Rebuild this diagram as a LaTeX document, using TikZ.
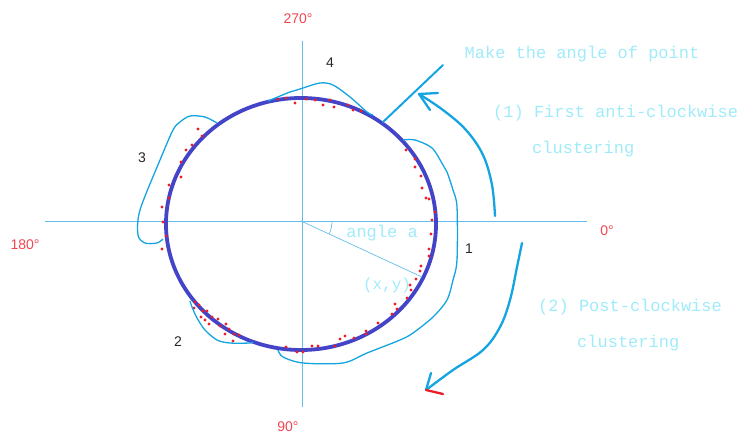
\documentclass[tikz,border=0pt]{standalone}
\usepackage{fontspec}
\setmainfont{Liberation Sans}
\newfontfamily\notefont{Liberation Mono}
\usetikzlibrary{positioning,calc}
\definecolor{axisblue}{RGB}{100,190,235}
\definecolor{sketchblue}{RGB}{20,165,225}
\definecolor{ringblue}{RGB}{68,68,200}
\definecolor{dotred}{RGB}{235,30,40}
\definecolor{notecyan}{RGB}{160,235,250}
\definecolor{degred}{RGB}{240,70,80}
\definecolor{numgray}{RGB}{40,40,40}

\begin{document}
\begin{tikzpicture}[
      x=1pt,y=-1pt,
      axis/.style={axisblue,line width=0.9pt},
      ring/.style={ringblue,line width=3.8pt},
      outline/.style={sketchblue,line width=1.3pt,line join=round},
      bigarrow/.style={sketchblue,line width=2.3pt,line cap=round,line join=round},
      note/.style={notecyan,font=\notefont\fontsize{17}{20}\selectfont,inner sep=0pt},
      deg/.style={degred,font=\fontsize{14}{16}\selectfont,inner sep=0pt},
      num/.style={numgray,font=\fontsize{14}{16}\selectfont,inner sep=0pt},
    ]
    \useasboundingbox (0,0) rectangle (743,436);

    % Axes
    \coordinate (o) at (301,221);
    \coordinate (xl) at (45,221);
    \coordinate (xr) at (587,221);
    \coordinate (yt) at (302,41);
    \coordinate (yb) at (302,407);
    \draw[axis] (xl) -- (xr);
    \draw[axis] (yt) -- (yb);

    % Direction labels
    \node[deg] (d270) at (298,19)  {270°};
    \node[deg] (d180) at (25,245)  {180°};
    \node[deg] (d0)   at (607,231) {0°};
    \node[deg] (d90)  at (288,427) {90°};

    % Fitted ring
    \draw[ring] (301,224) ellipse[x radius=135,y radius=126];

    % Angle of the point
    \coordinate (pt) at (422,277);
    \draw[axis,line width=0.7pt] (o) -- (pt);
    \draw[axis,line width=0.7pt] ($(o)+(31,0)$) arc[start angle=0,end angle=24,radius=31];
    \node[note] (ang) at (382,233) {angle a};
    \node[note,font=\notefont\fontsize{16}{18}\selectfont] (xy) at (387,285) {(x,y)};

    % Sample points
    \foreach \px/\py in {406/150,415/159,415/167,421/176,422/188,426/198,429/199,
        435/212,432/220,431/234,429/249,429/256,421/266,420/271,416/279,410/285,
        411/290,407/298,395/304,397/309,392/314,378/323,366/331,366/334,354/338,
        345/336,340/339,335/346,318/346,312/346,303/352,286/347,297/352,
        195/302,199/305,194/308,203/311,207/311,201/317,212/317,218/319,205/320,
        209/324,220/326,226/324,229/329,225/334,234/334,239/335,233/341,
        198/129,202/136,192/145,186/150,181/162,181/177,169/185,169/198,
        162/207,163/222,166/236,162/249,
        278/99,286/98,295/103,306/99,315/100,323/105,330/100,334/107,
        348/105,353/110,361/111}
      \fill[dotred] (\px,\py) circle[radius=1.6];

    % Cluster outlines
    \draw[outline] plot[smooth,tension=0.5] coordinates {(278,350) (283,357) (303,363)
        (343,363) (367,353) (400,340) (413,333) (433,317) (447,300) (453,280)
        (457,260) (457,207) (453,190) (447,172) (443,165) (432,148) (415,140) (403,140)};
    \draw[outline] plot[smooth,tension=0.5] coordinates {(190,301) (192,307) (197,318)
        (205,330) (217,340) (230,343) (250,343) (253,342)};
    \draw[outline] plot[smooth,tension=0.5] coordinates {(217,123) (205,117) (190,116)
        (180,122) (173,130) (160,160) (140,210) (138,235) (145,243) (157,243) (163,239)};
    \draw[outline] plot[smooth,tension=0.5] coordinates {(268,101) (290,92) (300,89)
        (320,83) (333,85) (350,97) (367,112) (373,115)};

    % Cluster numbers
    \node[num] (c1) at (469,249) {1};
    \node[num] (c2) at (178,342) {2};
    \node[num] (c3) at (142,158) {3};
    \node[num] (c4) at (330,63)  {4};

    % Pointer to the note
    \coordinate (pa) at (383,122);
    \coordinate (pb) at (443,65);
    \draw[bigarrow,line width=2pt] (pa) -- (pb);
    \node[note] (make) at (582,54) {Make the angle of point};

    % First pass, anti-clockwise
    \coordinate (a1s) at (495,216);
    \coordinate (a1t) at (419,94);
    \draw[bigarrow] plot[smooth,tension=0.6] coordinates {(a1s) (492,185) (483,155)
        (466,130) (443,110) (a1t)};
    \draw[bigarrow] (a1t) -- (438,93);
    \draw[bigarrow] (a1t) -- (430,110);
    \node[note,anchor=west] (first) at (493,113) {(1) First anti-clockwise};
    \node[note,anchor=west] (firstb) at (532,149) {clustering};

    % Second pass, clockwise
    \coordinate (a2s) at (522,243);
    \coordinate (a2t) at (426,390);
    \draw[bigarrow] plot[smooth,tension=0.6] coordinates {(a2s) (517,267) (510,300)
        (500,327) (483,350) (453,370) (a2t)};
    \draw[bigarrow] (a2t) -- (431,373);
    \draw[bigarrow,dotred] (a2t) -- (443,394);
    \node[note,anchor=west] (second) at (538,307) {(2) Post-clockwise};
    \node[note,anchor=west] (secondb) at (577,343) {clustering};

  \end{tikzpicture}
\end{document}
